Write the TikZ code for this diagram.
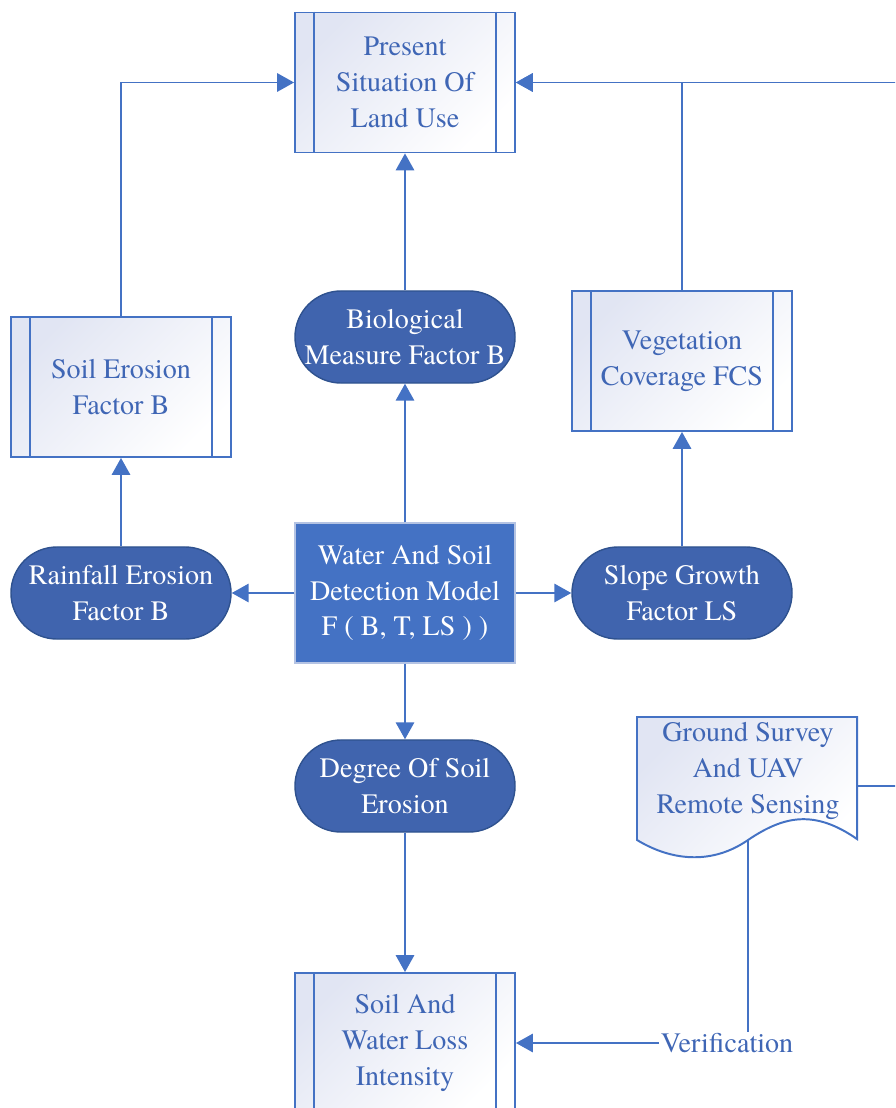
\documentclass[tikz,border=0pt]{standalone}
\usepackage{fontspec}
\setmainfont{texgyretermes}[Extension=.otf, UprightFont=*-regular]
\usetikzlibrary{arrows.meta}

\definecolor{lineblue}{HTML}{4472C4}
\definecolor{darkfill}{HTML}{4064AE}
\definecolor{darkedge}{HTML}{2F528F}
\definecolor{textblue}{HTML}{3F66B5}
\definecolor{paleblue}{HTML}{E1E5F3}
\definecolor{paleedge}{HTML}{B4C3E3}

\tikzset{
  procbox/.style={draw=lineblue, line width=1.3pt, minimum width=5.5cm, minimum height=3.5cm,
    align=center, text=textblue, inner sep=2pt,
    top color=paleblue, bottom color=white, shading angle=45},
  darkpill/.style={draw=darkedge, line width=1pt, fill=darkfill, text=white, inner sep=2pt,
    rounded corners=1.15cm, minimum width=5.5cm, minimum height=2.3cm, align=center},
  modelbox/.style={draw=paleedge, line width=1pt, fill=lineblue, text=white, inner sep=2pt,
    minimum width=5.5cm, minimum height=3.5cm, align=center},
  wire/.style={line width=1.4pt, draw=lineblue},
  link/.style={wire, -{Triangle[length=12pt,width=13pt]}},
}

\begin{document}
\begin{tikzpicture}[x=0.025cm, y=-0.025cm, font=\fontsize{20}{25.5}\selectfont]
\useasboundingbox (0,0) rectangle (895,1108);
\clip (0,0) rectangle (895,1108);

% Boxes
\node[procbox] (present) at (405,82.5) {Present\\Situation Of\\Land Use};
\node[darkpill] (bio) at (405,337) {Biological\\Measure Factor B};
\node[procbox] (veg) at (682,361) {Vegetation\\Coverage FCS};
\node[procbox] (soilero) at (121,387) {Soil Erosion\\Factor B};
\node[darkpill] (rain) at (121,593) {Rainfall Erosion\\Factor B};
\node[modelbox] (model) at (405,593) {Water And Soil\\Detection Model\\F ( B, T, LS ) )};
\node[darkpill] (slope) at (682,593) {Slope Growth\\Factor LS};
\node[darkpill] (degree) at (405,786) {Degree Of Soil\\Erosion};
\node[procbox] (loss) at (405,1043) {Soil And\\Water Loss\\Intensity};

% Side bars of the process boxes
\foreach \n in {present,veg,soilero,loss} {
    \draw[wire, line width=1pt] ([xshift=0.5cm]\n.north west) -- ([xshift=0.5cm]\n.south west);
    \draw[wire, line width=1pt] ([xshift=-0.5cm]\n.north east) -- ([xshift=-0.5cm]\n.south east);
}

% Document shape
\draw[wire, top color=paleblue, bottom color=white, shading angle=45]
    (637,717) -- (857,717) -- (857,839)
    .. controls (815,810) and (785,815) .. (748,840)
    .. controls (715,863) and (675,863) .. (637,840) -- cycle;
\node[text=textblue, align=center] (survey) at (748,771) {Ground Survey\\And UAV\\Remote Sensing};
\coordinate (survbot) at (748,840);
\coordinate (survright) at (857,786);
\coordinate (offedge) at (930,786);
\node[text=textblue, inner sep=1pt] (verif) at (727,1043) {Verification};

% Connectors
\draw[link] (soilero.north) |- (present.west);
\draw[link] (veg.north) |- (present.east);
\draw[link] (survright) -- (offedge) |- (present.east);
\draw[link] (bio.north) -- (present.south);
\draw[link] (model.north) -- (bio.south);
\draw[link] (model.west) -- (rain.east);
\draw[link] (model.east) -- (slope.west);
\draw[link] (model.south) -- (degree.north);
\draw[link] (rain.north) -- (soilero.south);
\draw[link] (slope.north) -- (veg.south);
\draw[link] (degree.south) -- (loss.north);
\draw[wire] (survbot) -- (survbot |- verif.north);
\draw[link] (verif.west) -- (loss.east);
\end{tikzpicture}
\end{document}
